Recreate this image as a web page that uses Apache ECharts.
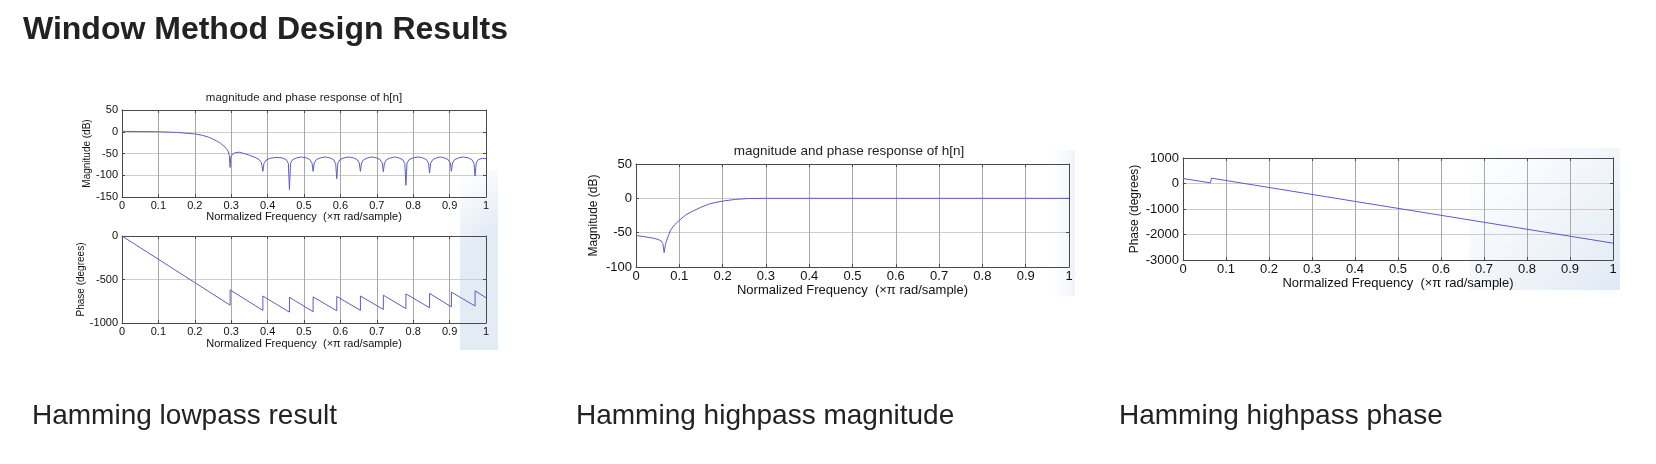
<!DOCTYPE html>
<html>
<head>
<meta charset="utf-8">
<title>Window Method Design Results</title>
<script src="https://cdn.jsdelivr.net/npm/echarts@6/dist/echarts.min.js"></script>
<style>
  html, body { margin: 0; padding: 0; background: #fff; }
  #main { width: 1656px; height: 464px; }
</style>
</head>
<body>
<div id="main"></div>
<script>
// frequency ticks, normalized (x pi rad/sample)
var freqTicks = [0, 0.1, 0.2, 0.3, 0.4, 0.5, 0.6, 0.7, 0.8, 0.9, 1];

// Hamming lowpass: magnitude (dB)
var lpMag = [
  [0, 1], [0.05, 0.5], [0.1, 0], [0.15, -1.5], [0.2, -5], [0.22, -8], [0.24, -13], [0.26, -21],
  [0.27, -26], [0.28, -33], [0.286, -38], [0.291, -44], [0.295, -55], [0.297, -82], [0.299, -58],
  [0.304, -51], [0.312, -48], [0.322, -47], [0.335, -50], [0.35, -54], [0.365, -59], [0.377, -64],
  [0.383, -71], [0.387, -91],
  [0.39, -73], [0.396, -65], [0.407, -61], [0.423, -59], [0.44, -60], [0.451, -64], [0.457, -73], [0.46, -133],
  [0.463, -72], [0.469, -64], [0.48, -60], [0.493, -58], [0.506, -60], [0.516, -64], [0.522, -72], [0.525, -91],
  [0.528, -72], [0.534, -64], [0.545, -60], [0.558, -58], [0.571, -60], [0.581, -64], [0.587, -73], [0.59, -108],
  [0.593, -72], [0.599, -64], [0.61, -60], [0.623, -58], [0.636, -60], [0.646, -64], [0.652, -72], [0.655, -91],
  [0.658, -72], [0.664, -64], [0.675, -60], [0.687, -58], [0.699, -60], [0.709, -64], [0.715, -72], [0.718, -92],
  [0.721, -72], [0.727, -64], [0.738, -60], [0.749, -58], [0.76, -60], [0.771, -64], [0.777, -73], [0.78, -123],
  [0.783, -72], [0.789, -64], [0.8, -60], [0.813, -58], [0.826, -60], [0.836, -64], [0.842, -72], [0.845, -95],
  [0.848, -72], [0.854, -64], [0.864, -60], [0.875, -58], [0.886, -60], [0.896, -64], [0.902, -72], [0.905, -91],
  [0.908, -72], [0.914, -64], [0.925, -60], [0.938, -58], [0.951, -60], [0.961, -64], [0.967, -73], [0.97, -102],
  [0.973, -72], [0.979, -64], [0.99, -61], [1, -62]
];

// Hamming lowpass: phase (degrees), sawtooth jumps at the nulls
var lpPhase = [
  [0, 0], [0.297, -795], [0.297, -620], [0.387, -855], [0.387, -690], [0.46, -875], [0.46, -705],
  [0.525, -870], [0.525, -700], [0.59, -860], [0.59, -695], [0.655, -855], [0.655, -690],
  [0.718, -845], [0.718, -680], [0.78, -835], [0.78, -665], [0.845, -825], [0.845, -660],
  [0.905, -815], [0.905, -645], [0.97, -805], [0.97, -630], [1, -710]
];

// Hamming highpass: magnitude (dB)
var hpMag = [
  [0, -54], [0.02, -56], [0.04, -58], [0.052, -60], [0.058, -62], [0.062, -66], [0.065, -79],
  [0.068, -67], [0.071, -61], [0.075, -54], [0.08, -46], [0.09, -38], [0.1, -32], [0.115, -24],
  [0.13, -19], [0.15, -13], [0.17, -8], [0.2, -4], [0.23, -1.5], [0.26, -0.3], [0.3, 0], [1, 0]
];

// Hamming highpass: phase (degrees)
var hpPhase = [[0, 195], [0.064, 25], [0.066, 210], [1, -2340]];

var FONT = 'Liberation Sans, Arial, Helvetica, sans-serif';
var LINE = '#5c5cc8';
var BOX = '#4a4a4a';

var chart = echarts.init(document.getElementById('main'));

var grids = [];
var xAxes = [];
var yAxes = [];
var series = [];

// one MATLAB-style boxed plot
function addPlot(p) {
  var g = grids.length;
  grids.push({ left: p.left, top: p.top, width: p.width, height: p.height, containLabel: false });
  var fmt = function (v) { return String(+v.toFixed(1)); };
  xAxes.push({
    gridIndex: g, type: 'value', min: 0, max: 1, interval: 0.1, position: 'bottom',
    axisLine: { show: true, onZero: false, lineStyle: { color: BOX, width: 1 } },
    axisTick: { show: true, inside: true, length: 3, lineStyle: { color: BOX } },
    axisLabel: { fontSize: p.font, color: '#111', fontFamily: FONT, margin: 3, formatter: fmt },
    splitLine: { show: true, lineStyle: { color: '#a8a8a8', width: 1 } },
    name: 'Normalized Frequency  (\u00d7\u03c0 rad/sample)', nameLocation: 'middle', nameGap: p.xGap,
    nameTextStyle: { fontSize: p.font, color: '#111', fontFamily: FONT }
  });
  xAxes.push({
    gridIndex: g, type: 'value', min: 0, max: 1, interval: 0.1, position: 'top',
    axisLine: { show: true, onZero: false, lineStyle: { color: BOX, width: 1 } },
    axisTick: { show: true, inside: true, length: 3, lineStyle: { color: BOX } },
    axisLabel: { show: false }, splitLine: { show: false }
  });
  yAxes.push({
    gridIndex: g, type: 'value', min: p.ymin, max: p.ymax, interval: p.yint, position: 'left',
    axisLine: { show: true, onZero: false, lineStyle: { color: BOX, width: 1 } },
    axisTick: { show: true, inside: true, length: 3, lineStyle: { color: BOX } },
    axisLabel: { fontSize: p.font, color: '#111', fontFamily: FONT, margin: 4,
      formatter: function (v) { return String(v); } },
    splitLine: { show: true, lineStyle: { color: '#cdcdcd', width: 1 } },
    name: p.yName, nameLocation: 'middle', nameGap: p.yGap, nameRotate: 90,
    nameTextStyle: { fontSize: p.font - 1, color: '#111', fontFamily: FONT }
  });
  yAxes.push({
    gridIndex: g, type: 'value', min: p.ymin, max: p.ymax, interval: p.yint, position: 'right',
    axisLine: { show: true, onZero: false, lineStyle: { color: BOX, width: 1 } },
    axisTick: { show: true, inside: true, length: 3, lineStyle: { color: BOX } },
    axisLabel: { show: false }, splitLine: { show: false }
  });
  series.push({
    type: 'line', xAxisIndex: 2 * g, yAxisIndex: 2 * g, data: p.data,
    showSymbol: false, symbol: 'none', animation: false, z: 5,
    lineStyle: { color: LINE, width: 1 }
  });
}

addPlot({ left: 122, top: 110, width: 364, height: 87, ymin: -150, ymax: 50, yint: 50,
  font: 11, xGap: 14, yGap: 30, yName: 'Magnitude (dB)', data: lpMag });
addPlot({ left: 122, top: 236, width: 364, height: 87, ymin: -1000, ymax: 0, yint: 500,
  font: 11, xGap: 15, yGap: 36, yName: 'Phase (degrees)', data: lpPhase });
addPlot({ left: 636, top: 164, width: 433, height: 103, ymin: -100, ymax: 50, yint: 50,
  font: 13, xGap: 15, yGap: 36, yName: 'Magnitude (dB)', data: hpMag });
addPlot({ left: 1183, top: 158, width: 430, height: 102, ymin: -3000, ymax: 1000, yint: 1000,
  font: 13, xGap: 15, yGap: 42, yName: 'Phase (degrees)', data: hpPhase });

// faint blue slide watermark behind the plot pictures
function tint(x, y, w, h, a, gx, gy) {
  return {
    type: 'rect', z: -10, silent: true,
    shape: { x: x, y: y, width: w, height: h },
    style: {
      fill: new echarts.graphic.LinearGradient(0, 0, gx, gy, [
        { offset: 0, color: 'rgba(200,216,236,0)' },
        { offset: 1, color: 'rgba(176,200,228,' + a + ')' }
      ])
    }
  };
}

function txt(s, x, y, font, align) {
  return {
    type: 'text', z: 10, silent: true,
    style: { text: s, x: x, y: y, font: font, fill: '#222', align: align || 'left', verticalAlign: 'middle' }
  };
}

chart.setOption({
  backgroundColor: '#ffffff',
  animation: false,
  grid: grids,
  xAxis: xAxes,
  yAxis: yAxes,
  series: series,
  graphic: [
    tint(460, 170, 38, 180, 0.35, 1, 0.3),
    tint(1050, 150, 25, 146, 0.2, 1, 0),
    tint(1470, 148, 150, 142, 0.4, 1, 1),
    txt('Window Method Design Results', 23, 30, 'bold 32px ' + FONT),
    txt('magnitude and phase response of h[n]', 304, 98, '11.5px ' + FONT, 'center'),
    txt('magnitude and phase response of h[n]', 849, 151, '13.5px ' + FONT, 'center'),
    txt('Hamming lowpass result', 32, 416, '28px ' + FONT),
    txt('Hamming highpass magnitude', 576, 416, '28px ' + FONT),
    txt('Hamming highpass phase', 1119, 416, '28px ' + FONT)
  ]
});
</script>
</body>
</html>
